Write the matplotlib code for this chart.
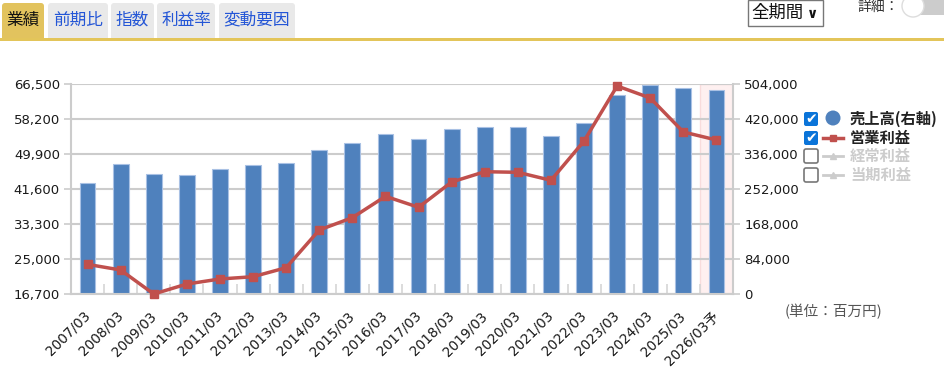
import numpy as np
import matplotlib.pyplot as plt
from matplotlib.patches import Rectangle, FancyBboxPatch, Circle
from matplotlib.ticker import FuncFormatter

plt.rcParams['font.family'] = ['DejaVu Sans', 'Noto Sans CJK JP']

periods = ['2007/03', '2008/03', '2009/03', '2010/03', '2011/03', '2012/03',
           '2013/03', '2014/03', '2015/03', '2016/03', '2017/03', '2018/03',
           '2019/03', '2020/03', '2021/03', '2022/03', '2023/03', '2024/03',
           '2025/03', '2026/03予']
# 売上高 (right axis, 百万円)
sales = [267000, 312000, 288700, 285600, 300700, 309600, 315100, 345600,
         363100, 384700, 372000, 396000, 402200, 402000, 380700, 411900,
         478300, 502300, 495900, 490300]
# 営業利益 (left axis, 百万円)
op_profit = [23800, 22460, 16770, 19140, 20330, 20870, 23010, 31950,
             34870, 39940, 37330, 43330, 45770, 45630, 43730, 53050,
             66100, 63250, 55190, 53290]

left_ticks = [16700, 25000, 33300, 41600, 49900, 58200, 66500]
right_ticks = [0, 84000, 168000, 252000, 336000, 420000, 504000]

legend_items = ['売上高(右軸)', '営業利益', '経常利益', '当期利益']
tabs = ['業績', '前期比', '指数', '利益率', '変動要因']

W, H = 945, 375
fig = plt.figure(figsize=(W / 100, H / 100), dpi=100)

grid_c = '#cccccc'
txt_c = '#1a1a1a'
bar_c = '#4f81bd'
line_c = '#c0504d'
fmt = FuncFormatter(lambda v, p: f'{int(v):,}')

ax = fig.add_axes([71 / W, 1 - 294.3 / H, (733 - 71) / W, 210 / H])
ax2 = ax.twinx()
n = len(periods)
x = np.arange(n)

# bars: 売上高 on the right-hand scale
ax.axvspan(n - 1.5, n - 0.5, facecolor='#fef0f0', edgecolor='#f8dcdc', lw=1, zorder=0.3)
ax.bar(x, sales, width=0.48, color=bar_c, edgecolor='#a9c1e4', linewidth=0.8, zorder=2)
ax.set_xlim(-0.5, n - 0.5)
ax.set_ylim(0, 504000)
ax.set_yticks(right_ticks)
ax.yaxis.set_major_formatter(fmt)
ax.set_axisbelow(True)
ax.yaxis.grid(True, color=grid_c, lw=1.5)
ax.tick_params(axis='y', which='major', length=5, width=1.2, color=grid_c,
               labelsize=9.5, labelcolor=txt_c, pad=3)
ax.set_xticks(x)
ax.set_xticklabels(periods, rotation=45, ha='right', va='center',
                   rotation_mode='anchor', fontsize=9.8, color=txt_c)
ax.tick_params(axis='x', which='major', length=0, pad=14)
ax.set_xticks(np.arange(-0.5, n, 1), minor=True)
ax.tick_params(axis='x', which='minor', direction='in', length=7, width=1.2, color='#d6d6d6')
for s in ['left', 'right', 'bottom']:
    ax.spines[s].set_color(grid_c)
    ax.spines[s].set_linewidth(1.5)
ax.spines['top'].set_visible(False)

# line: 営業利益 on the left-hand scale
ax2.plot(x, op_profit, color=line_c, lw=2.5, marker='s', markersize=5.5, clip_on=False, zorder=3)
ax2.set_ylim(16700, 66500)
ax2.yaxis.tick_left()
ax2.set_yticks(left_ticks)
ax2.yaxis.set_major_formatter(fmt)
ax2.tick_params(axis='y', length=5, width=1.2, color=grid_c, labelsize=9.5,
                labelcolor=txt_c, pad=3)
for s in ax2.spines.values():
    s.set_visible(False)
ax.yaxis.tick_right()

# page UI: tabs, selector, legend, unit note
ui = fig.add_axes([0, 0, 1, 1], zorder=5)
ui.set_xlim(0, W)
ui.set_ylim(H, 0)
ui.axis('off')
ui.patch.set_visible(False)

jp = ['Noto Sans CJK JP', 'DejaVu Sans']
tab_x = [(2, 44), (48, 108), (111, 154), (157, 215), (219, 295)]
for i, (lbl, (x0, x1)) in enumerate(zip(tabs, tab_x)):
    fc = '#e2c35e' if i == 0 else '#e9e9e9'
    ui.add_patch(FancyBboxPatch((x0, 3), x1 - x0, 38, boxstyle='round,pad=0,rounding_size=3',
                                fc=fc, ec='none'))
    ui.text((x0 + x1) / 2, 20, lbl, ha='center', va='center', fontsize=12,
            family=jp, color='#111111' if i == 0 else '#2456d6')
ui.add_patch(Rectangle((0, 38), W, 3, fc='#e3c55a', ec='none'))

ui.add_patch(Rectangle((747.5, 0), 75, 26, fc='white', ec='#777777', lw=1))
ui.text(751, 13, '全期間', ha='left', va='center', fontsize=12.5, family=jp, color='#111111')
ui.text(813, 14, '∨', ha='center', va='center', fontsize=10, fontweight='bold', color='#111111')
ui.text(858, 7, '詳細：', ha='left', va='center', fontsize=10, family=jp, color='#333333')
ui.add_patch(FancyBboxPatch((912, 0), 40, 15, boxstyle='round,pad=0,rounding_size=7',
                            fc='#cccccc', ec='none'))
ui.add_patch(Circle((913, 6), 11, fc='white', ec='#dddddd', lw=1))

rows_y = [119, 138, 156, 175]
for i, (lbl, yy) in enumerate(zip(legend_items, rows_y)):
    on = i < 2
    if on:
        ui.add_patch(FancyBboxPatch((804, yy - 7), 14, 14, boxstyle='round,pad=0,rounding_size=2',
                                    fc='#0a74d9', ec='none'))
        ui.text(811, yy + 0.5, '✔', ha='center', va='center', fontsize=10, color='white',
                family='DejaVu Sans')
    else:
        ui.add_patch(FancyBboxPatch((804, yy - 7), 14, 14, boxstyle='round,pad=0,rounding_size=2',
                                    fc='white', ec='#777777', lw=1.2))
    if i == 0:
        ui.add_patch(Circle((833, yy - 1), 7.5, fc=bar_c, ec='none'))
    else:
        c = line_c if on else '#cccccc'
        ui.plot([823, 843], [yy, yy], color=c, lw=2.5 if on else 2)
        ui.plot([833], [yy], marker='s' if on else '^', color=c, markersize=4)
    ui.text(850, yy, lbl, ha='left', va='center', fontsize=11, fontweight='bold',
            family=jp, color='#222222' if on else '#cccccc')

ui.text(833, 312, '(単位：百万円)', ha='center', va='center', fontsize=10.5,
        family=jp, color='#555555')

fig.savefig('out.png', dpi=100)
